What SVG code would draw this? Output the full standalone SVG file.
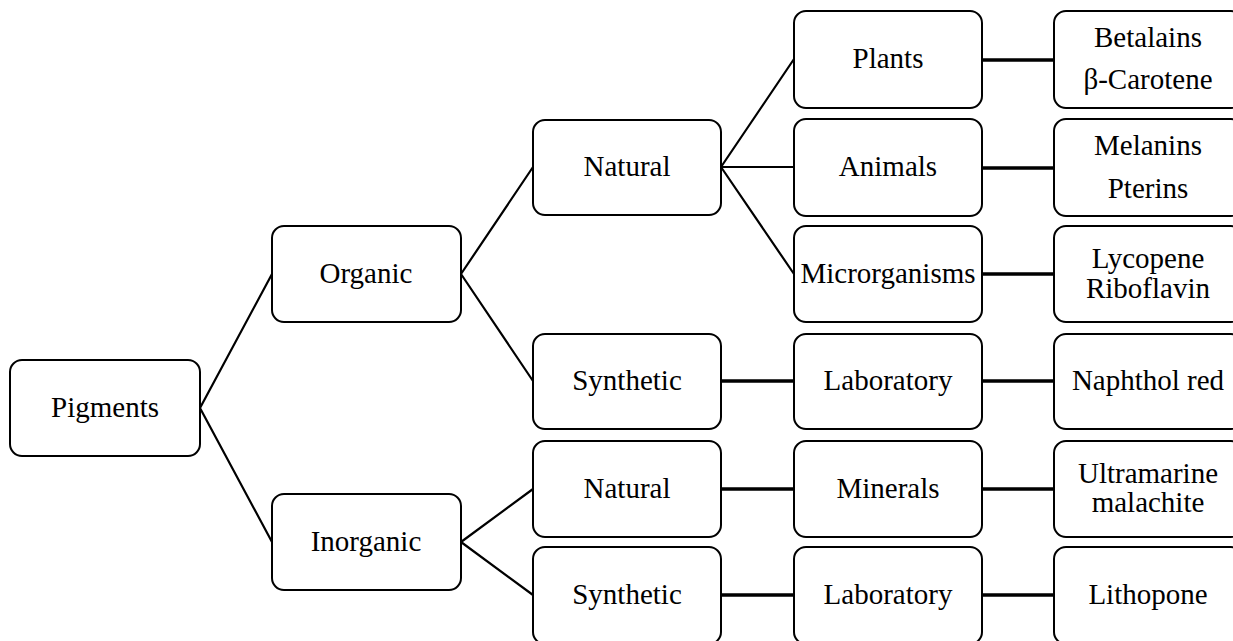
<svg xmlns="http://www.w3.org/2000/svg" width="1233" height="641" viewBox="0 0 1233 641">
<style>
.box{fill:#fff;stroke:#000;stroke-width:2}
.t{font-family:'Liberation Serif','Times New Roman',Times,'DejaVu Serif',serif;font-size:29px;fill:#000;text-anchor:middle}
.thin{stroke:#000;stroke-width:2.2;fill:none}
.thick{stroke:#000;stroke-width:3.5;fill:none}
</style>
<rect width="1233" height="641" fill="#fff"/>
<g id="connectors">
<path class="thin" d="M200,408 L272,274 M200,408 L272,542"/>
<path class="thin" d="M461,274 L533,167 M461,274 L533,381"/>
<path class="thin" d="M721,167 L794,59 M721,167 L794,167 M721,167 L794,274"/>
<path class="thin" d="M461,542 L533,489 M461,542 L533,595"/>
<path class="thick" d="M982,60 H1054 M982,168 H1054 M982,274 H1054"/>
<path class="thick" d="M721,381 H794 M982,381 H1054"/>
<path class="thick" d="M721,489 H794 M982,489 H1054"/>
<path class="thick" d="M721,595 H794 M982,595 H1054"/>
</g>
<g id="pigments"><rect class="box" x="10" y="360" width="190" height="96" rx="12"/><text class="t" x="105" y="417" font-family="Liberation Serif, serif">Pigments</text></g>
<g id="organic"><rect class="box" x="272" y="226" width="189" height="96" rx="12"/><text class="t" x="366" y="283">Organic</text></g>
<g id="inorganic"><rect class="box" x="272" y="494" width="189" height="96" rx="12"/><text class="t" x="366" y="551">Inorganic</text></g>
<g id="natural-org"><rect class="box" x="533" y="120" width="188" height="95" rx="12"/><text class="t" x="627" y="176">Natural</text></g>
<g id="synthetic-org"><rect class="box" x="533" y="334" width="188" height="95" rx="12"/><text class="t" x="627" y="390">Synthetic</text></g>
<g id="natural-inorg"><rect class="box" x="533" y="441" width="188" height="96" rx="12"/><text class="t" x="627" y="498">Natural</text></g>
<g id="synthetic-inorg"><rect class="box" x="533" y="547" width="188" height="97" rx="12"/><text class="t" x="627" y="604">Synthetic</text></g>
<g id="plants"><rect class="box" x="794" y="11" width="188" height="97" rx="12"/><text class="t" x="888" y="68">Plants</text></g>
<g id="animals"><rect class="box" x="794" y="119" width="188" height="97" rx="12"/><text class="t" x="888" y="176">Animals</text></g>
<g id="microrganisms"><rect class="box" x="794" y="226" width="188" height="96" rx="12"/><text class="t" x="888" y="283">Microrganisms</text></g>
<g id="laboratory-org"><rect class="box" x="794" y="334" width="188" height="95" rx="12"/><text class="t" x="888" y="390">Laboratory</text></g>
<g id="minerals"><rect class="box" x="794" y="441" width="188" height="96" rx="12"/><text class="t" x="888" y="498">Minerals</text></g>
<g id="laboratory-inorg"><rect class="box" x="794" y="547" width="188" height="97" rx="12"/><text class="t" x="888" y="604">Laboratory</text></g>
<g id="betalains"><rect class="box" x="1054" y="11" width="189" height="97" rx="12"/><text class="t" x="1148" y="47">Betalains</text><text class="t" x="1148" y="89">β-Carotene</text></g>
<g id="melanins"><rect class="box" x="1054" y="119" width="189" height="97" rx="12"/><text class="t" x="1148" y="155">Melanins</text><text class="t" x="1148" y="198">Pterins</text></g>
<g id="lycopene"><rect class="box" x="1054" y="226" width="189" height="96" rx="12"/><text class="t" x="1148" y="268">Lycopene</text><text class="t" x="1148" y="298">Riboflavin</text></g>
<g id="naphthol"><rect class="box" x="1054" y="334" width="189" height="95" rx="12"/><text class="t" x="1148" y="390">Naphthol red</text></g>
<g id="ultramarine"><rect class="box" x="1054" y="441" width="189" height="96" rx="12"/><text class="t" x="1148" y="483">Ultramarine</text><text class="t" x="1148" y="512">malachite</text></g>
<g id="lithopone"><rect class="box" x="1054" y="547" width="189" height="97" rx="12"/><text class="t" x="1148" y="604">Lithopone</text></g>
</svg>
